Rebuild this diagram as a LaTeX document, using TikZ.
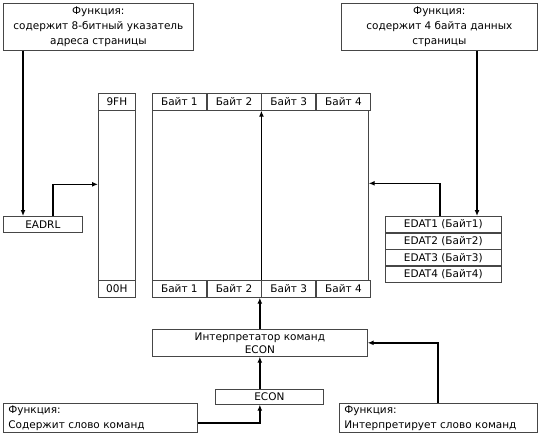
\documentclass[tikz,border=0pt]{standalone}
\usepackage{fontspec}
\setmainfont{DejaVu Sans}
\usepackage{xcolor}
\usepackage{tikz}
\usetikzlibrary{arrows.meta,positioning}
\definecolor{boxgray}{RGB}{70,70,70}

\begin{document}
\begin{tikzpicture}[
      x=1pt, y=-1pt,
      blk/.style={rectangle, draw=boxgray, line width=0.7pt, fill=white,
                  minimum width=#1, inner sep=0pt, anchor=north west,
                  align=center, font=\fontsize{10.5}{15}\selectfont},
      blk/.default=54pt,
      cell/.style={blk=#1, minimum height=17pt},
      cell/.default=54pt,
      note/.style={blk=#1, minimum height=29pt, align=left,
                   text width=#1-10pt, inner xsep=5pt},
      arr/.style={-{Latex[length=6pt,width=5pt]}, line width=1.4pt},
    ]
    \useasboundingbox (0,0) rectangle (543,434);

    \node[blk=190pt, minimum height=47pt] (fnaddr) at (3,3)
      {Функция:\\содержит 8-битный указатель\\адреса страницы};

    \node[blk=196pt, minimum height=47pt] (fndata) at (341,3)
      {Функция:\\содержит 4 байта данных\\страницы};

    \node[blk=79pt, minimum height=16pt] (eadrl) at (3,216) {EADRL};

    \node[blk=37pt, minimum height=204pt] (addrcol) at (98,93) {};
    \node[cell=37pt] (hi) at (98,93) {9FH};
    \node[cell=37pt] (lo) at (98,280) {00H};

    \node[blk=216pt, minimum height=204pt] (datablk) at (152,93) {};
    \node[cell] (t1) at (152,93) {Байт 1};
    \node[cell, right=0pt of t1] (t2) {Байт 2};
    \node[cell, right=0pt of t2] (t3) {Байт 3};
    \node[cell, right=0pt of t3] (t4) {Байт 4};
    \node[cell] (b1) at (152,280) {Байт 1};
    \node[cell, right=0pt of b1] (b2) {Байт 2};
    \node[cell, right=0pt of b2] (b3) {Байт 3};
    \node[cell, right=0pt of b3] (b4) {Байт 4};

    \node[cell=116pt, minimum height=16pt] (edat1) at (385,216) {EDAT1 (Байт1)};
    \node[cell=116pt, minimum height=16pt, below=0pt of edat1] (edat2) {EDAT2 (Байт2)};
    \node[cell=116pt, minimum height=16pt, below=0pt of edat2] (edat3) {EDAT3 (Байт3)};
    \node[cell=116pt, minimum height=16pt, below=0pt of edat3] (edat4) {EDAT4 (Байт4)};

    \node[blk=215pt, minimum height=27pt, font=\fontsize{10.5}{13}\selectfont] (interp)
      at (152,329) {Интерпретатор команд\\ECON};

    \node[blk=108pt, minimum height=15pt] (econ) at (215,389) {ECON};

    \node[note=194pt] (fnword) at (3,403)
      {Функция:\\Содержит слово команд};

    \node[note=198pt] (fninterp) at (339,403)
      {Функция:\\Интерпретирует слово команд};

    \draw[arr] ([xshift=20pt]fnaddr.south west) -- ([xshift=20pt]eadrl.north west);
    \draw[arr] ([xshift=50pt]eadrl.north west) |- ([yshift=11pt]addrcol.west);
    \draw[arr] ([xshift=136pt]fndata.south west) -- ([xshift=92pt]edat1.north west);
    \draw[arr] ([xshift=55pt]edat1.north west) |- ([yshift=12pt]datablk.east);
    \draw[arr] (interp.north) -- (interp.north |- b2.south east);
    \draw[arr] (b2.north east) -- (t2.south east);
    \draw[arr] (econ.north -| interp.south) -- (interp.south);
    \draw[arr] ([yshift=-5pt]fnword.east) -| (econ.south -| interp.south);
    \draw[arr] ([xshift=99pt]fninterp.north west) |- (interp.east);
  \end{tikzpicture}
\end{document}
